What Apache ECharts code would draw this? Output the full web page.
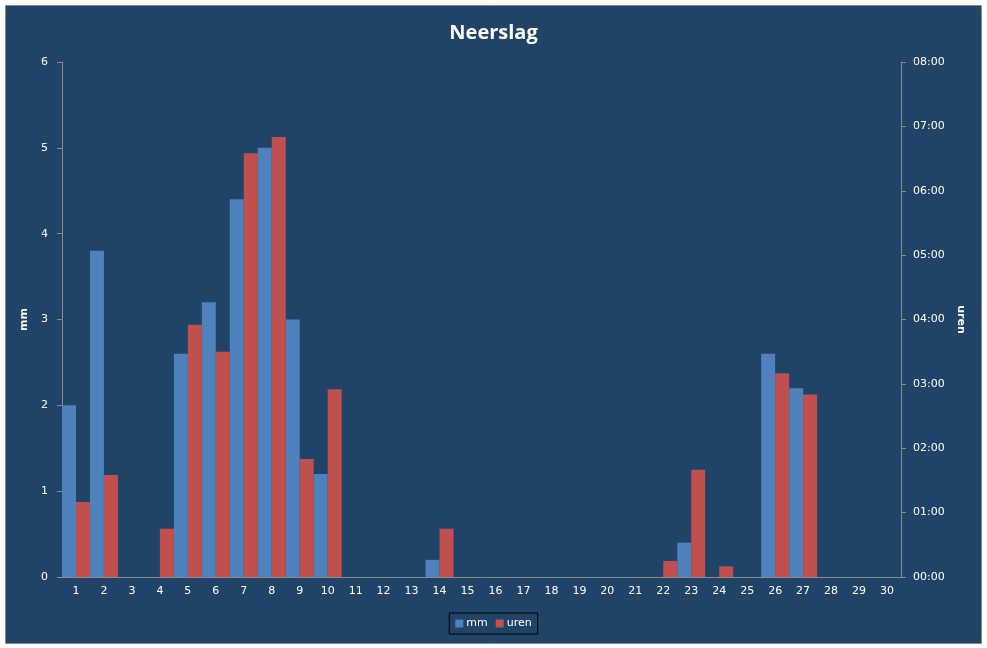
<!DOCTYPE html>
<html style="height: 100%">
<head>
  <meta charset="utf-8">
  <script src="https://cdn.jsdelivr.net/npm/echarts@6/dist/echarts.min.js"></script>
</head>
<body style="height: 100%; margin: 0; background: #fff">
  <div id="main" style="width: 987px; height: 648px"></div>
  <script type="text/javascript">
    // dagen van de maand
    var dagen = [];
    for (var d = 1; d <= 30; d++) dagen.push(String(d));

    // neerslag in mm per dag
    var mm = [2.0, 3.8, 0, 0, 2.6, 3.2, 4.4, 5.0, 3.0, 1.2,
              0, 0, 0, 0.2, 0, 0, 0, 0, 0, 0,
              0, 0, 0.4, 0, 0, 2.6, 2.2, 0, 0, 0];

    // duur van de neerslag in minuten per dag
    var uren = [70, 95, 0, 45, 235, 210, 395, 410, 110, 175,
                0, 0, 0, 45, 0, 0, 0, 0, 0, 0,
                0, 15, 100, 10, 0, 190, 170, 0, 0, 0];

    var labelColor = '#ffffff';
    var lijnKleur = '#8c8c8c';

    function tijd(v) {
      var h = Math.floor(v / 60), m = v % 60;
      return (h < 10 ? '0' : '') + h + ':' + (m < 10 ? '0' : '') + m;
    }

    var myChart = echarts.init(document.getElementById('main'));
    var option = {
      backgroundColor: '#ffffff',
      animation: false,
      graphic: [{
        type: 'rect',
        silent: true,
        z: -10,
        shape: { x: 5.5, y: 5.5, width: 976, height: 638 },
        style: { fill: '#1f4467', stroke: '#8a8a8a', lineWidth: 1 }
      }],
      title: {
        text: 'Neerslag',
        left: 'center',
        top: 18,
        textStyle: { color: '#fff', fontSize: 20, fontWeight: 'bold', fontFamily: 'Open Sans' }
      },
      legend: {
        data: ['mm', 'uren'],
        bottom: 14,
        left: 'center',
        itemWidth: 8,
        itemHeight: 8,
        itemGap: 8,
        padding: [5, 6],
        borderColor: '#000',
        borderWidth: 1,
        icon: 'rect',
        textStyle: { color: '#fff', fontSize: 11, fontFamily: 'DejaVu Sans', padding: [0, 0, 0, -2] }
      },
      grid: { left: 62, right: 86, top: 62, bottom: 71 },
      xAxis: {
        type: 'category',
        data: dagen,
        boundaryGap: true,
        axisLine: { lineStyle: { color: lijnKleur } },
        axisTick: { length: 5, lineStyle: { color: lijnKleur } },
        axisLabel: { color: labelColor, fontSize: 11, margin: 9, fontFamily: 'DejaVu Sans' }
      },
      yAxis: [{
        type: 'value',
        name: 'mm',
        nameLocation: 'middle',
        nameGap: 26,
        nameTextStyle: { color: '#fff', fontWeight: 'bold', fontSize: 11, fontFamily: 'DejaVu Sans' },
        min: 0, max: 6, interval: 1,
        splitLine: { show: false },
        axisLine: { show: true, lineStyle: { color: lijnKleur } },
        axisTick: { show: true, length: 5, lineStyle: { color: lijnKleur } },
        axisLabel: { color: labelColor, fontSize: 11, margin: 14, fontFamily: 'DejaVu Sans' }
      }, {
        type: 'value',
        name: 'uren',
        position: 'right',
        nameLocation: 'middle',
        nameRotate: -90,
        nameGap: 54,
        nameTextStyle: { color: '#fff', fontWeight: 'bold', fontSize: 11, fontFamily: 'DejaVu Sans' },
        min: 0, max: 480, interval: 60,
        splitLine: { show: false },
        axisLine: { show: true, lineStyle: { color: lijnKleur } },
        axisTick: { show: true, length: 5, lineStyle: { color: lijnKleur } },
        axisLabel: { color: labelColor, fontSize: 11, margin: 12, fontFamily: 'DejaVu Sans', formatter: tijd }
      }],
      series: [{
        name: 'mm',
        type: 'bar',
        data: mm,
        barGap: '0%',
        barCategoryGap: '0%',
        itemStyle: { color: '#4f81bd' }
      }, {
        name: 'uren',
        type: 'bar',
        yAxisIndex: 1,
        data: uren,
        itemStyle: { color: '#c0504d' }
      }]
    };
    myChart.setOption(option);
  </script>
</body>
</html>
